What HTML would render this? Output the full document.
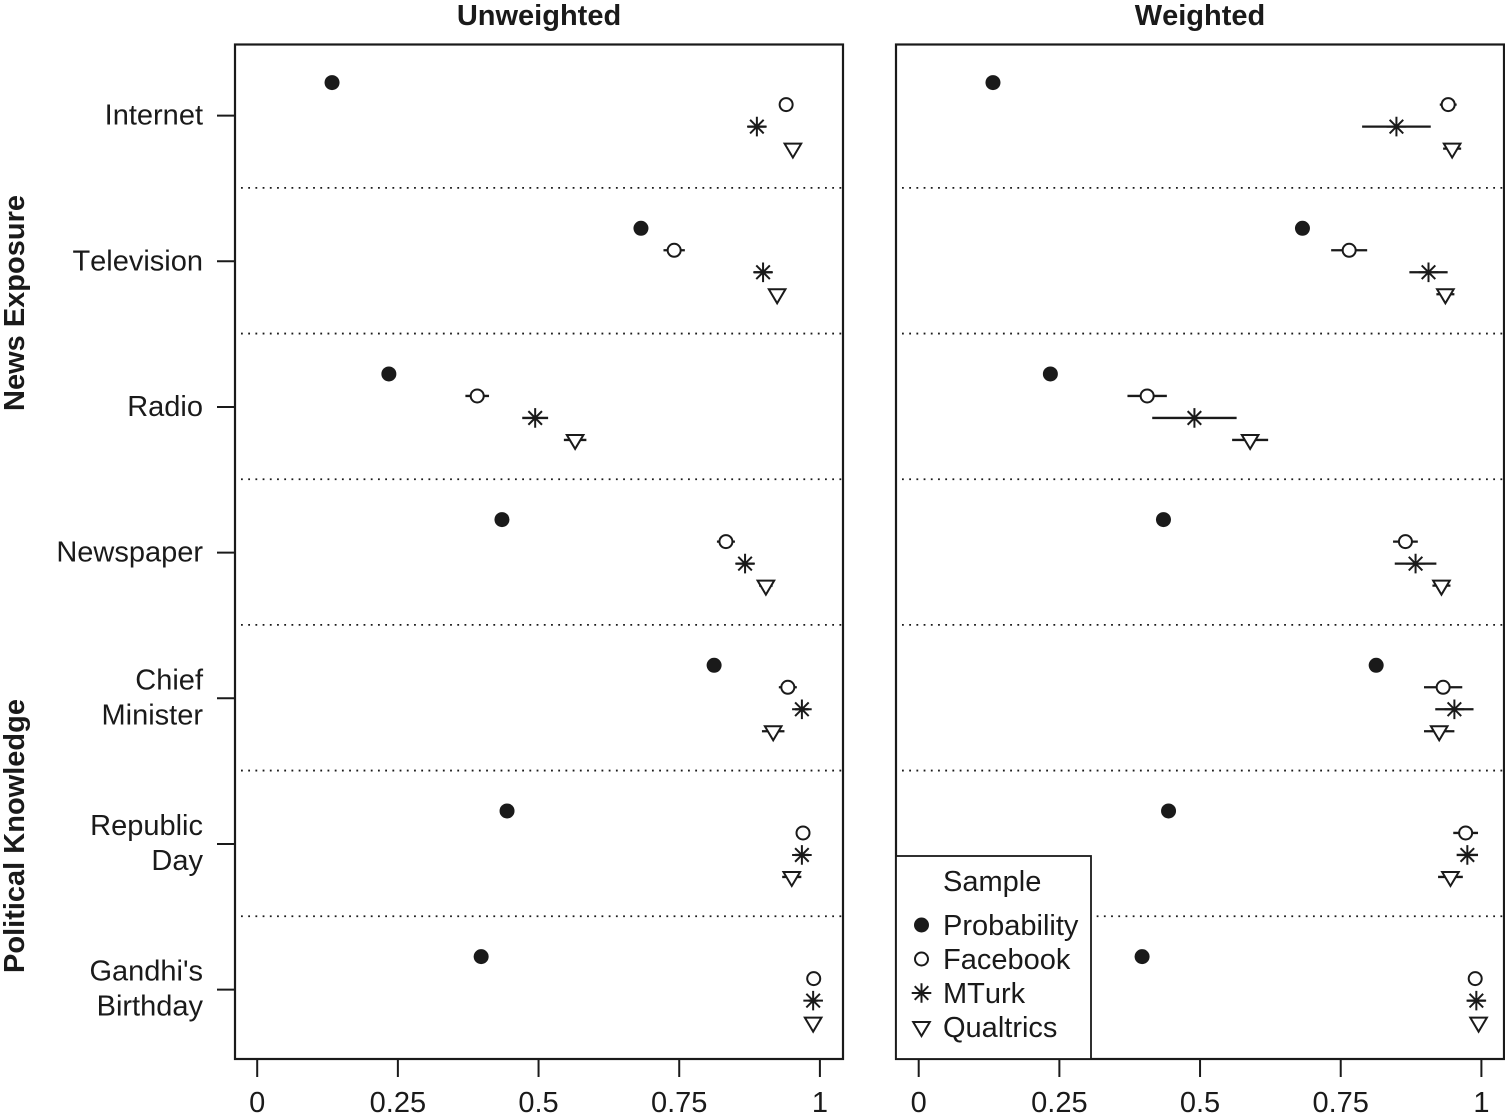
<!DOCTYPE html>
<html lang="en">
<head>
<meta charset="utf-8">
<title>Unweighted and Weighted Sample Comparison</title>
<style>
html,body{margin:0;padding:0;background:#fff;}
body{width:1505px;height:1119px;overflow:hidden;}
svg{display:block;}
text{font-family:"Liberation Sans",Arial,sans-serif;font-size:29px;fill:#1a1a1a;font-kerning:none;}
.bold{font-weight:bold;}
</style>
</head>
<body>
<svg id="chart" xmlns="http://www.w3.org/2000/svg" width="1505" height="1119" viewBox="0 0 1505 1119">
  <text class="bold" x="539" y="25" text-anchor="middle">Unweighted</text>
  <text class="bold" x="1200" y="25" text-anchor="middle">Weighted</text>
  <text class="bold" transform="translate(24,303) rotate(-90)" text-anchor="middle">News Exposure</text>
  <text class="bold" transform="translate(24,836) rotate(-90)" text-anchor="middle">Political Knowledge</text>
</svg>
<script>
const categories = ["Internet", "Television", "Radio", "Newspaper", "Chief\nMinister", "Republic\nDay", "Gandhi's\nBirthday"];
const samples = ["Probability", "Facebook", "MTurk", "Qualtrics"];
const xTicks = [0, 0.25, 0.5, 0.75, 1];
const xTickLabels = ["0", "0.25", "0.5", "0.75", "1"];
const panelNames = ["unweighted", "weighted"];

// Estimates per category, by panel and sample
const unweightedProbability = [0.133, 0.682, 0.234, 0.435, 0.812, 0.444, 0.398];
const unweightedFacebook    = [0.940, 0.741, 0.391, 0.833, 0.943, 0.970, 0.989];
const unweightedMTurk       = [0.888, 0.899, 0.494, 0.867, 0.968, 0.968, 0.988];
const unweightedQualtrics   = [0.952, 0.924, 0.565, 0.904, 0.917, 0.950, 0.988];

const weightedProbability = [0.132, 0.682, 0.234, 0.435, 0.813, 0.444, 0.397];
const weightedFacebook    = [0.941, 0.765, 0.406, 0.865, 0.932, 0.972, 0.989];
const weightedMTurk       = [0.849, 0.906, 0.490, 0.883, 0.952, 0.975, 0.991];
const weightedQualtrics   = [0.948, 0.936, 0.589, 0.929, 0.925, 0.945, 0.995];

// Interval half-widths per category
const unweightedProbabilityErr = [0.002, 0.002, 0.002, 0.002, 0.002, 0.002, 0.002];
const unweightedFacebookErr    = [0.008, 0.019, 0.021, 0.016, 0.016, 0.008, 0.004];
const unweightedMTurkErr       = [0.016, 0.016, 0.023, 0.016, 0.012, 0.012, 0.008];
const unweightedQualtricsErr   = [0.008, 0.008, 0.020, 0.012, 0.020, 0.017, 0.006];

const weightedProbabilityErr = [0.002, 0.002, 0.002, 0.002, 0.002, 0.002, 0.002];
const weightedFacebookErr    = [0.015, 0.032, 0.035, 0.022, 0.034, 0.022, 0.004];
const weightedMTurkErr       = [0.061, 0.034, 0.075, 0.037, 0.034, 0.019, 0.016];
const weightedQualtricsErr   = [0.016, 0.016, 0.032, 0.016, 0.027, 0.022, 0.006];

const panelValues = [
  [unweightedProbability, unweightedFacebook, unweightedMTurk, unweightedQualtrics],
  [weightedProbability, weightedFacebook, weightedMTurk, weightedQualtrics]
];
const panelErrors = [
  [unweightedProbabilityErr, unweightedFacebookErr, unweightedMTurkErr, unweightedQualtricsErr],
  [weightedProbabilityErr, weightedFacebookErr, weightedMTurkErr, weightedQualtricsErr]
];

const NS = "http://www.w3.org/2000/svg";
const INK = "#1a1a1a";
const svg = document.getElementById("chart");
const panelLeft = [235, 896];
const panelWidth = 608;
const panelTop = 44.5;
const panelBottom = 1059;
const xOrigin = [257.2, 918.7];
const xUnit = 562.7;
const rowStart = 82.6;
const rowStep = 145.67;
const sampleStep = 22;

function xScale(panel, v) { return xOrigin[panel] + v * xUnit; }
function yScale(row, sample) { return rowStart + row * rowStep + sample * sampleStep; }

function make(tag, attrs, parent) {
  const el = document.createElementNS(NS, tag);
  for (const k in attrs) el.setAttribute(k, attrs[k]);
  (parent || svg).appendChild(el);
  return el;
}

function drawMarker(parent, sample, x, y) {
  if (sample === 0) {
    make("circle", {cx: x, cy: y, r: 7.5, fill: INK}, parent);
  } else if (sample === 1) {
    make("circle", {cx: x, cy: y, r: 6.5, fill: "#fff", stroke: INK, "stroke-width": 2}, parent);
  } else if (sample === 2) {
    const r = 9.8, d = 6.8;
    make("path", {
      d: "M" + (x - r) + " " + y + "H" + (x + r) +
         "M" + x + " " + (y - r) + "V" + (y + r) +
         "M" + (x - d) + " " + (y - d) + "L" + (x + d) + " " + (y + d) +
         "M" + (x - d) + " " + (y + d) + "L" + (x + d) + " " + (y - d),
      fill: "none", stroke: INK, "stroke-width": 2
    }, parent);
  } else {
    make("path", {
      d: "M" + (x - 8.3) + " " + (y - 5) + "H" + (x + 8.3) + "L" + x + " " + (y + 9) + "Z",
      fill: "#fff", stroke: INK, "stroke-width": 2, "stroke-linejoin": "miter"
    }, parent);
  }
}

panelNames.forEach(function (panelName, p) {
  const left = panelLeft[p];
  const right = left + panelWidth;

  // row separators
  categories.forEach(function (cat, r) {
    if (r === categories.length - 1) return;
    const sepY = yScale(r, 0) + 105.3;
    const sep = make("line", {x1: left + 6, x2: right, y1: sepY, y2: sepY, stroke: INK, "stroke-width": 1.8, "stroke-dasharray": "1.8 5.41"});
    
    
  });

  // x axis ticks and labels
  xTicks.forEach(function (t, i) {
    const tx = xScale(p, t);
    const tick = make("line", {x1: tx, x2: tx, y1: panelBottom, y2: 1077, stroke: INK, "stroke-width": 2});
    
    
    const lab = make("text", {x: tx, y: 1112, "text-anchor": "middle"});
    
    
    lab.textContent = xTickLabels[i];
  });

  // series marks
  samples.forEach(function (sampleName, s) {
    categories.forEach(function (cat, r) {
      const v = panelValues[p][s][r];
      const e = panelErrors[p][s][r];
      const y = yScale(r, s);
      const g = make("g", {});
      
      
      make("line", {x1: xScale(p, v - e), x2: xScale(p, v + e), y1: y, y2: y, stroke: INK, "stroke-width": 2.3}, g);
      drawMarker(g, s, xScale(p, v), y);
    });
  });

  // frame
  const frame = make("rect", {x: left, y: panelTop, width: panelWidth, height: panelBottom - panelTop, fill: "none", stroke: INK, "stroke-width": 2.2});
  
  
});

// y axis ticks and category labels
categories.forEach(function (cat, r) {
  const ty = yScale(r, 0) + 33;
  const tick = make("line", {x1: 217, x2: 235, y1: ty, y2: ty, stroke: INK, "stroke-width": 2});
  
  
  const lines = cat.split("\n");
  lines.forEach(function (ln, i) {
    const base = lines.length === 1 ? ty + 9 : ty - 9 + i * 35;
    const lab = make("text", {x: 203, y: base, "text-anchor": "end"});
    
    
    lab.textContent = ln;
  });
});

// legend
const legend = make("g", {});


make("rect", {x: 896, y: 856, width: 195, height: 203, fill: "#fff", stroke: INK, "stroke-width": 1.8}, legend);
const legendTitle = make("text", {x: 943, y: 891}, legend);


legendTitle.textContent = "Sample";
samples.forEach(function (sampleName, s) {
  const ly = 925 + s * 34;
  const entry = make("g", {}, legend);
  
  
  drawMarker(entry, s, 921.5, ly);
  const t = make("text", {x: 943, y: ly + 10}, entry);
  t.textContent = sampleName;
});
</script>
</body>
</html>
